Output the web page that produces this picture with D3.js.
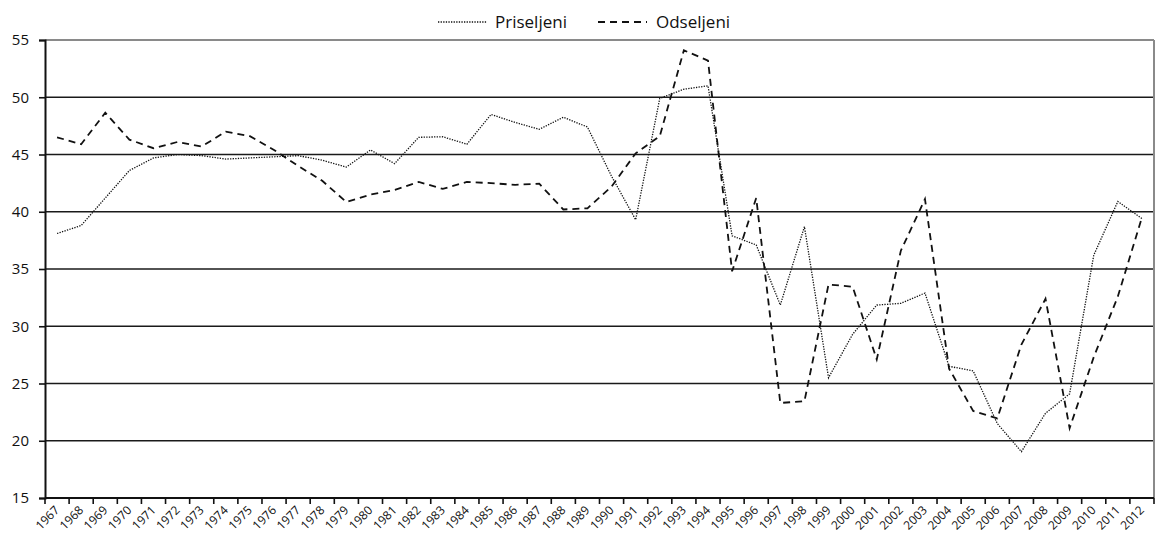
<!DOCTYPE html>
<html>
<head>
<meta charset="utf-8">
<script src="https://cdn.jsdelivr.net/npm/d3@7"></script>
<style>
  body { margin: 0; background: #fff; }
  text { font-family: "Open Sans", "Noto Sans", sans-serif; fill: #111; }
</style>
</head>
<body>
<div class="chart"></div>
<script>
// Data
var years = ["1967","1968","1969","1970","1971","1972","1973","1974","1975","1976",
  "1977","1978","1979","1980","1981","1982","1983","1984","1985","1986",
  "1987","1988","1989","1990","1991","1992","1993","1994","1995","1996",
  "1997","1998","1999","2000","2001","2002","2003","2004","2005","2006",
  "2007","2008","2009","2010","2011","2012"];

var priseljeni = [38.1, 38.8, 41.2, 43.6, 44.7, 45.0, 44.9, 44.6, 44.7, 44.8,
  44.9, 44.5, 43.9, 45.4, 44.2, 46.5, 46.55, 45.9, 48.5, 47.8,
  47.2, 48.25, 47.4, 43.1, 39.3, 49.9, 50.7, 51.0, 37.9, 37.1,
  31.85, 38.7, 25.5, 29.3, 31.85, 32.0, 32.9, 26.5, 26.1, 21.5,
  19.05, 22.4, 24.1, 36.2, 40.9, 39.4];

var odseljeni = [46.5, 45.9, 48.65, 46.3, 45.55, 46.1, 45.7, 47.0, 46.6, 45.4,
  44.0, 42.7, 40.85, 41.5, 41.9, 42.6, 42.0, 42.6, 42.5, 42.35,
  42.45, 40.2, 40.3, 42.2, 45.1, 46.6, 54.1, 53.2, 34.8, 41.2,
  23.3, 23.45, 33.65, 33.45, 27.1, 36.6, 41.1, 26.3, 22.6, 21.95,
  28.4, 32.4, 21.1, 27.3, 32.6, 39.5];

var yTicks = [15, 20, 25, 30, 35, 40, 45, 50, 55];
var seriesNames = ["Priseljeni", "Odseljeni"];

// Chart parameters
var svgWidth = 1158;
var svgHeight = 537;
var margin = { top: 40, right: 4, bottom: 39, left: 45 };
var width = svgWidth - margin.left - margin.right;
var height = svgHeight - margin.top - margin.bottom;

var svg = d3.select(".chart")
  .append("svg")
  .attr("width", svgWidth)
  .attr("height", svgHeight);

var chartGroup = svg.append("g")
  .attr("transform", `translate(${margin.left}, ${margin.top})`);

// Scales
var xScale = d3.scaleBand()
  .domain(years)
  .range([0, width]);

var yScale = d3.scaleLinear()
  .domain([15, 55])
  .range([height, 0]);

// Gridlines
chartGroup.selectAll(".grid")
  .data(yTicks.filter(d => d > 15))
  .enter().append("line")
  .attr("x1", 0)
  .attr("x2", width)
  .attr("y1", d => yScale(d))
  .attr("y2", d => yScale(d))
  .attr("stroke", d => d === 55 ? "#8a8a8a" : "#1a1a1a")
  .attr("stroke-width", d => d === 55 ? 2 : 1.6);

// right border of plot area
chartGroup.append("line")
  .attr("x1", width).attr("x2", width)
  .attr("y1", 0).attr("y2", height)
  .attr("stroke", "#8a8a8a")
  .attr("stroke-width", 2);

// Y axis
var leftAxis = d3.axisLeft(yScale)
  .tickValues(yTicks)
  .tickSize(6)
  .tickPadding(10);

var yAxisG = chartGroup.append("g").call(leftAxis);
yAxisG.select(".domain").attr("stroke", "#111").attr("stroke-width", 2);
yAxisG.selectAll(".tick line").attr("stroke", "#111").attr("stroke-width", 1.6);
yAxisG.selectAll(".tick text")
  .attr("font-size", "15px")
  .attr("font-family", "'Open Sans', sans-serif")
  .attr("fill", "#111");

// X axis: ticks sit on the category boundaries
var xAxisG = chartGroup.append("g")
  .attr("transform", `translate(0, ${height})`);

xAxisG.append("line")
  .attr("x1", 0).attr("x2", width)
  .attr("stroke", "#111")
  .attr("stroke-width", 2);

xAxisG.selectAll(".xtick")
  .data(years.concat(["end"]))
  .enter().append("line")
  .attr("x1", (d, i) => i * xScale.step())
  .attr("x2", (d, i) => i * xScale.step())
  .attr("y1", 0)
  .attr("y2", 6)
  .attr("stroke", "#111")
  .attr("stroke-width", 1.6);

xAxisG.selectAll(".xlabel")
  .data(years)
  .enter().append("text")
  .attr("transform", d => `translate(${xScale(d) + xScale.bandwidth() / 2 + 3}, 13) rotate(-45)`)
  .attr("text-anchor", "end")
  .attr("font-size", "12px")
  .text(d => d);

// Lines
var line = d3.line()
  .x((d, i) => xScale(years[i]) + xScale.bandwidth() / 2)
  .y(d => yScale(d));

chartGroup.append("path")
  .datum(priseljeni)
  .attr("d", line)
  .attr("fill", "none")
  .attr("stroke", "#111")
  .attr("stroke-width", 1.3)
  .attr("stroke-dasharray", "1.3,1.3");

chartGroup.append("path")
  .datum(odseljeni)
  .attr("d", line)
  .attr("fill", "none")
  .attr("stroke", "#111")
  .attr("stroke-width", 1.8)
  .attr("stroke-dasharray", "7,5");

// Legend
var legend = svg.append("g");

legend.append("line")
  .attr("x1", 438).attr("x2", 487)
  .attr("y1", 22).attr("y2", 22)
  .attr("stroke", "#111")
  .attr("stroke-width", 1.3)
  .attr("stroke-dasharray", "1.3,1.3");

legend.append("text")
  .attr("x", 495)
  .attr("y", 28)
  .attr("font-size", "17px")
  .text(seriesNames[0]);

legend.append("line")
  .attr("x1", 598).attr("x2", 647)
  .attr("y1", 22).attr("y2", 22)
  .attr("stroke", "#111")
  .attr("stroke-width", 1.8)
  .attr("stroke-dasharray", "7,5");

legend.append("text")
  .attr("x", 656)
  .attr("y", 28)
  .attr("font-size", "17px")
  .text(seriesNames[1]);
</script>
</body>
</html>
